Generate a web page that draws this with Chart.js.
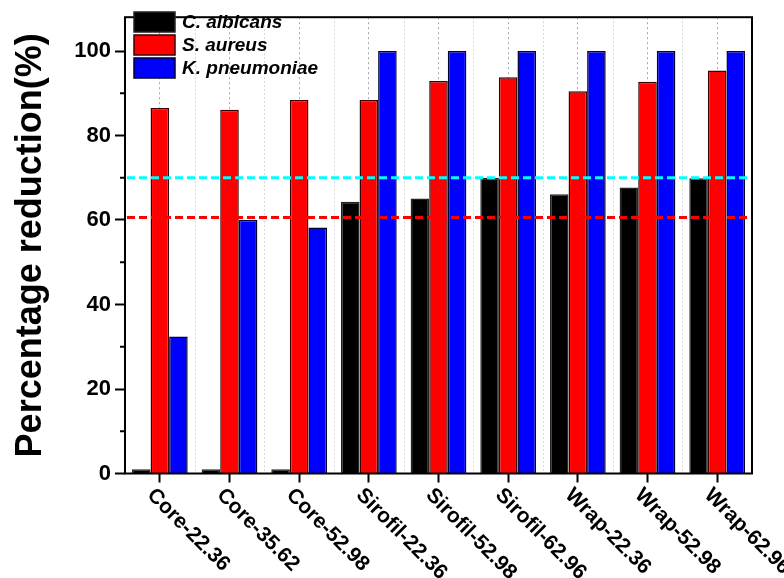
<!DOCTYPE html>
<html>
<head>
<meta charset="utf-8">
<script src="https://cdn.jsdelivr.net/npm/chart.js@4"></script>
<style>
  html, body { margin: 0; padding: 0; background: #fff; }
  #wrap { width: 784px; height: 578px; }
</style>
</head>
<body>
<div id="wrap"><canvas id="chart" width="784" height="578"></canvas></div>
<script>
// data
const sampleLabels = ["Core-22.36", "Core-35.62", "Core-52.98", "Sirofil-22.36", "Sirofil-52.98", "Sirofil-62.96", "Wrap-22.36", "Wrap-52.98", "Wrap-62.96"];
const cAlbicans   = [1.0, 1.0, 1.0, 64.3, 65.1, 70.0, 66.1, 67.7, 69.9];
const sAureus     = [86.5, 86.1, 88.4, 88.4, 92.9, 93.8, 90.5, 92.7, 95.4];
const kPneumoniae = [32.4, 60.0, 58.2, 100, 100, 100, 100, 100, 100];
const refLineValues = [70.0, 60.6];
const refLineColors = ['#00ffff', '#ff0000'];
const yTicksMajor = [0, 20, 40, 60, 80, 100];

const FONT = "'Liberation Sans', Arial, sans-serif";

// boundary gridlines between categories (light dotted), under the bars
const boundaryGridPlugin = {
    id: 'boundaryGrid',
    beforeDatasetsDraw(chart) {
        const ctx = chart.ctx, a = chart.chartArea, xs = chart.scales.x;
        ctx.save();
        ctx.strokeStyle = 'rgba(0,0,0,0.16)'; ctx.lineWidth = 1; ctx.setLineDash([2, 2]);
        for (let i = 0; i < xs.ticks.length - 1; i++) {
            const px = Math.round((xs.getPixelForTick(i) + xs.getPixelForTick(i + 1)) / 2) + 0.5;
            ctx.beginPath(); ctx.moveTo(px, a.top); ctx.lineTo(px, a.bottom); ctx.stroke();
        }
        ctx.restore();
    }
};

// dashed reference lines, frame, minor y ticks, rotated x labels, legend
const decorPlugin = {
    id: 'decor',
    afterDatasetsDraw(chart) {
        const ctx = chart.ctx, a = chart.chartArea, ys = chart.scales.y;
        ctx.save();
        ctx.lineWidth = 3; ctx.setLineDash([8, 4]);
        refLineValues.forEach((v, i) => {
            const py = ys.getPixelForValue(v);
            ctx.strokeStyle = refLineColors[i];
            ctx.beginPath(); ctx.moveTo(a.left + 2, py); ctx.lineTo(a.right - 4, py); ctx.stroke();
        });
        ctx.setLineDash([]);
        ctx.strokeStyle = '#000'; ctx.lineWidth = 2;
        ctx.strokeRect(a.left, a.top, a.right - a.left, a.bottom - a.top);
        for (let i = 0; i < yTicksMajor.length - 1; i++) {
            const py = ys.getPixelForValue((yTicksMajor[i] + yTicksMajor[i + 1]) / 2);
            ctx.beginPath(); ctx.moveTo(a.left - 5, py); ctx.lineTo(a.left, py); ctx.stroke();
        }
        ctx.restore();
    },
    afterDraw(chart) {
        const ctx = chart.ctx, a = chart.chartArea, xs = chart.scales.x;
        ctx.save();
        ctx.fillStyle = '#000';
        ctx.font = "bold 21px " + FONT;
        ctx.textAlign = 'left'; ctx.textBaseline = 'middle';
        chart.data.labels.forEach((lab, i) => {
            const px = xs.getPixelForTick(i);
            ctx.save();
            ctx.translate(px - 9.5, xs.top + 18.5);
            ctx.rotate(Math.PI / 4);
            ctx.fillText(lab, 0, 0);
            ctx.restore();
        });
        ctx.font = "italic bold 19px " + FONT;
        chart.data.datasets.forEach((d, i) => {
            const bx = a.left + 9, by = 12 + i * 23;
            ctx.fillStyle = d.backgroundColor;
            ctx.fillRect(bx, by, 41, 20);
            ctx.strokeStyle = d.borderColor; ctx.lineWidth = 1.5;
            ctx.strokeRect(bx, by, 41, 20);
            ctx.fillStyle = '#000';
            ctx.fillText(d.label, bx + 48, by + 11);
        });
        ctx.restore();
    }
};

const barCommon = { borderWidth: 1.5, categoryPercentage: 0.8, barPercentage: 1.0 };

new Chart(document.getElementById('chart').getContext('2d'), {
    type: 'bar',
    data: {
        labels: sampleLabels,
        datasets: [
            { label: 'C. albicans', data: cAlbicans, backgroundColor: '#000000', borderColor: '#222222', ...barCommon },
            { label: 'S. aureus', data: sAureus, backgroundColor: '#ff0000', borderColor: '#3a0000', ...barCommon },
            { label: 'K. pneumoniae', data: kPneumoniae, backgroundColor: '#0000ff', borderColor: '#000033', ...barCommon }
        ]
    },
    options: {
        responsive: false, animation: false,
        layout: { padding: { top: 9, right: 32, left: 0, bottom: 0 } },
        plugins: { legend: { display: false }, tooltip: { enabled: false } },
        scales: {
            x: {
                type: 'category', offset: true,
                grid: { offset: false, color: 'rgba(0,0,0,0.35)', lineWidth: 1, drawTicks: true, tickLength: 9, tickColor: '#000', tickWidth: 2 },
                border: { display: false, dash: [2, 3] },
                ticks: { display: false, autoSkip: false },
                afterFit(s) { s.height = 104.5; }
            },
            y: {
                min: 0, max: 108,
                ticks: { stepSize: 20, includeBounds: false, color: '#000', padding: 4, font: { family: FONT, size: 22, weight: 'bold' } },
                grid: { drawOnChartArea: false, drawTicks: true, tickLength: 10, tickColor: '#000', tickWidth: 2 },
                border: { display: false },
                title: { display: true, text: 'Percentage reduction(%)', color: '#000', padding: { top: 9, bottom: 0 }, font: { family: FONT, size: 36, weight: 'bold' } },
                afterFit(s) { s.width = 125; }
            }
        }
    },
    plugins: [boundaryGridPlugin, decorPlugin]
});
</script>
</body>
</html>
